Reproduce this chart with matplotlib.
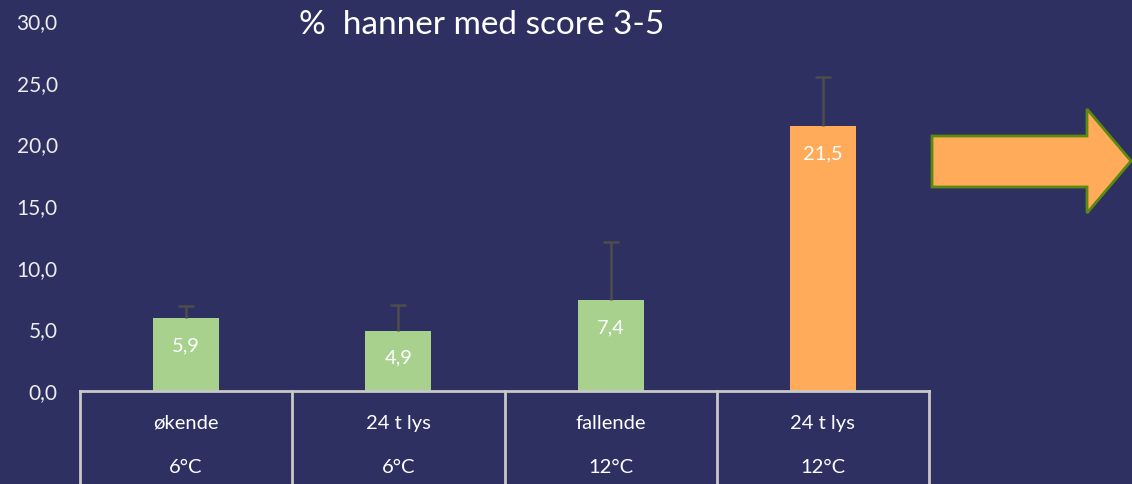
import matplotlib.pyplot as plt
from matplotlib.patches import Polygon
from matplotlib.transforms import blended_transform_factory

# data
lys = ["økende", "24 t lys", "fallende", "24 t lys"]
temp = ["6°C", "6°C", "12°C", "12°C"]
verdier = [5.9, 4.9, 7.4, 21.5]
feil = [1.0, 2.1, 4.7, 4.0]
farger = ["#A9D18E", "#A9D18E", "#A9D18E", "#FFAB59"]
yticks = [0, 5, 10, 15, 20, 25, 30]

bg = "#2E3062"
linje = "#C8C8C8"
plt.rcParams['font.family'] = ['Lato', 'DejaVu Sans']

W, H = 1132, 484
fig = plt.figure(figsize=(W / 100, H / 100), dpi=100, facecolor=bg)
ax = fig.add_axes([80 / W, (H - 391) / H, (929 - 80) / W, 370 / H])
ax.set_facecolor(bg)

x = list(range(len(verdier)))
ax.bar(x, verdier, width=0.31, color=farger, zorder=2)
_, caps, _ = ax.errorbar(x, verdier, yerr=[[0] * len(feil), feil], fmt="none",
                         ecolor="#4D4D4D", elinewidth=1.8, capsize=6,
                         capthick=1.8, zorder=3)
caps[0].set_visible(False)  # bare øvre strek

for xi, v in zip(x, verdier):
    ax.annotate(f"{v:.1f}".replace(".", ","), (xi, v), xytext=(0, -20),
                textcoords="offset points", ha="center", va="center",
                color="white", fontsize=14.5, zorder=4)

ax.set_xlim(-0.5, len(verdier) - 0.5)
ax.set_ylim(0, 30)
ax.set_yticks(yticks)
ax.set_yticklabels([f"{t:.1f}".replace(".", ",") for t in yticks])
ax.tick_params(axis="y", length=0, pad=16, labelsize=15, labelcolor="#EDEDED")
ax.set_xticks([])
for s in ["top", "right", "left"]:
    ax.spines[s].set_visible(False)
ax.spines["bottom"].set_color(linje)
ax.spines["bottom"].set_linewidth(2)

# tabell under aksen
tr = blended_transform_factory(ax.transData, ax.transAxes)
for b in [i - 0.5 for i in range(len(verdier) + 1)]:
    ax.plot([b, b], [0, -0.3], color=linje, lw=2, transform=tr, clip_on=False)
for xi in x:
    ax.text(xi, -0.087, lys[xi], transform=tr, ha="center", va="center",
            color="white", fontsize=14.5)
    ax.text(xi, -0.208, temp[xi], transform=tr, ha="center", va="center",
            color="white", fontsize=14.5)

fig.text(482 / W, (H - 25) / H, "%  hanner med score 3-5", ha="center",
         va="center", color="white", fontsize=24)

# pil
pil_px = [(932, 136), (1087, 136), (1087, 109), (1131, 161),
          (1087, 213), (1087, 187), (932, 187)]
pil = Polygon([(px / W, (H - py) / H) for px, py in pil_px], closed=True,
              transform=fig.transFigure, facecolor="#FFAB59",
              edgecolor="#5B8A0E", lw=2)
fig.patches.append(pil)

fig.savefig("out.png", dpi=100, facecolor=bg)
